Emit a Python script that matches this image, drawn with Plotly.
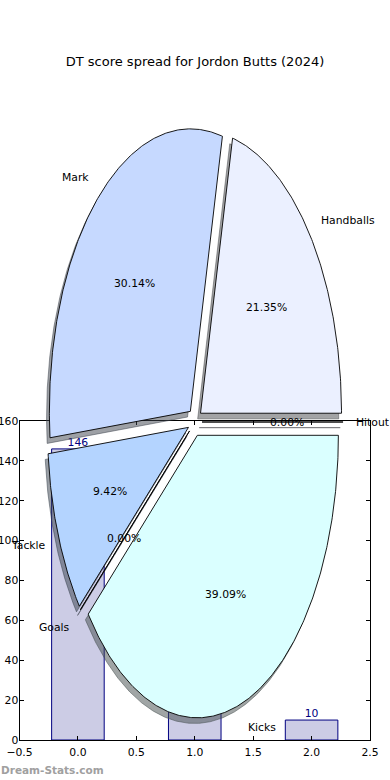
import numpy as np
import plotly.graph_objects as go

# ---------------- data ----------------
title_text = "DT score spread for Jordon Butts (2024)"
slice_labels = ["Handballs", "Mark", "Tackle", "Goals", "Kicks", "Hitout"]
slice_pcts = [21.35, 30.14, 9.42, 0.00, 39.09, 0.00]
slice_colors = ["#EBF0FF", "#C6D9FF", "#B4D4FF", "#C8DCFF", "#DAFFFF", "#E6E6FF"]

bar_x = [0, 1, 2]
bar_vals = [146, 88, 10]
x_tick_vals = [-0.5, 0.0, 0.5, 1.0, 1.5, 2.0, 2.5]
x_tick_text = ["\u22120.5", "0.0", "0.5", "1.0", "1.5", "2.0", "2.5"]
y_tick_vals = [0, 20, 40, 60, 80, 100, 120, 140, 160]
watermark = "Dream-Stats.com"

# ---------------- layout constants ----------------
W, H = 390, 780
AX_L, AX_R, AX_T, AX_B = 19.5, 370.0, 421.0, 740.0   # bar axes box (px)
PIE_CX, PIE_CY, PIE_RX, PIE_RY = 195.0, 422.0, 141.0, 282.5  # pie ellipse (px)
EXPLODE = 0.05
SHADOW_OFF = 0.02
LABEL_DIST = 1.1
PCT_DIST = 0.6
FONT = "DejaVu Sans"
FS = 10.8


def hex_rgb(h):
    h = h.lstrip("#")
    return tuple(int(h[i:i + 2], 16) for i in (0, 2, 4))


fig = go.Figure()

# ---------------- bars (x / y) ----------------
fig.add_trace(go.Bar(
    x=bar_x, y=bar_vals, width=0.45,
    marker=dict(color="#CCCCE5", line=dict(color="#000080", width=1)),
    xaxis="x", yaxis="y", showlegend=False, hoverinfo="skip",
))
fig.add_trace(go.Scatter(
    x=bar_x, y=bar_vals, mode="text", text=[str(v) for v in bar_vals],
    textposition="top center",
    textfont=dict(family=FONT, size=FS, color="#000080"),
    xaxis="x", yaxis="y", showlegend=False, hoverinfo="skip",
))

# ---------------- pie (x2 / y2, unit-circle coordinates) ----------------
total = float(sum(slice_pcts))
theta_start = []
theta_end = []
acc = 0.0
for p in slice_pcts:
    t1 = 360.0 * acc / total
    acc += p
    t2 = 360.0 * acc / total
    theta_start.append(t1)
    theta_end.append(t2)

wedges = []
for lab, p, col, t1, t2 in zip(slice_labels, slice_pcts, slice_colors, theta_start, theta_end):
    tm = np.deg2rad((t1 + t2) / 2.0)
    ox, oy = EXPLODE * np.cos(tm), EXPLODE * np.sin(tm)
    n = max(2, int(abs(t2 - t1) * 2) + 2)
    th = np.deg2rad(np.linspace(t1, t2, n))
    xs = np.concatenate([[ox], ox + np.cos(th), [ox]])
    ys = np.concatenate([[oy], oy + np.sin(th), [oy]])
    wedges.append((lab, p, col, tm, ox, oy, xs, ys))

# shadows first (below all wedges)
for lab, p, col, tm, ox, oy, xs, ys in wedges:
    r, g, b = hex_rgb(col)
    sc = f"rgba({int(r * 0.3)},{int(g * 0.3)},{int(b * 0.3)},0.5)"
    fig.add_trace(go.Scatter(
        x=xs - SHADOW_OFF, y=ys - SHADOW_OFF, mode="lines", fill="toself",
        fillcolor=sc, line=dict(color=sc, width=1),
        xaxis="x2", yaxis="y2", showlegend=False, hoverinfo="skip",
    ))

for lab, p, col, tm, ox, oy, xs, ys in wedges:
    fig.add_trace(go.Scatter(
        x=xs, y=ys, mode="lines", fill="toself",
        fillcolor=col, line=dict(color="black", width=0.9),
        xaxis="x2", yaxis="y2", showlegend=False, hoverinfo="skip",
    ))

annotations = []
for lab, p, col, tm, ox, oy, xs, ys in wedges:
    lx = ox + LABEL_DIST * np.cos(tm)
    ly = oy + LABEL_DIST * np.sin(tm)
    left = lx > 0
    annotations.append(dict(
        x=lx, y=ly, xref="x2", yref="y2", text=lab, showarrow=False,
        xanchor="left" if left else "right", yanchor="middle",
        xshift=-2 if left else 2, borderpad=0,
        font=dict(family=FONT, size=FS, color="black"),
    ))
    px_ = ox + PCT_DIST * np.cos(tm)
    py_ = oy + PCT_DIST * np.sin(tm)
    annotations.append(dict(
        x=px_, y=py_, xref="x2", yref="y2", text=f"{p:.2f}%", showarrow=False,
        xanchor="center", yanchor="middle", borderpad=0,
        font=dict(family=FONT, size=FS, color="black"),
    ))

annotations.append(dict(
    x=0.0, y=1 - 770 / H, xref="paper", yref="paper", text="<b>" + watermark + "</b>",
    showarrow=False, xanchor="left", yanchor="middle", borderpad=0,
    font=dict(family=FONT, size=10.5, color="#A0A0A0"),
))

axis_common = dict(
    showline=True, linecolor="black", linewidth=1, mirror="ticks",
    ticks="inside", ticklen=4, tickwidth=1, tickcolor="black",
    showgrid=False, zeroline=False, fixedrange=True, automargin=False,
    tickfont=dict(family=FONT, size=FS, color="black"),
)

fig.update_layout(
    width=W, height=H,
    margin=dict(l=0, r=0, t=0, b=0, pad=0, autoexpand=False),
    paper_bgcolor="white", plot_bgcolor="rgba(0,0,0,0)",
    showlegend=False,
    title=dict(text=title_text, x=0.5, xanchor="center", y=1 - 61 / H, yanchor="middle",
               font=dict(family=FONT, size=13, color="black")),
    xaxis=dict(domain=[AX_L / W, AX_R / W], range=[-0.5, 2.5], anchor="y",
               tickmode="array", tickvals=x_tick_vals, ticktext=x_tick_text,
               ticklabelstandoff=2,
               **axis_common),
    yaxis=dict(domain=[1 - AX_B / H, 1 - AX_T / H], range=[0, 160], anchor="x",
               tickmode="array", tickvals=y_tick_vals, ticklabelstandoff=-2,
               **axis_common),
    xaxis2=dict(domain=[0, 1], anchor="y2", visible=False, fixedrange=True, automargin=False,
                range=[-PIE_CX / PIE_RX, (W - PIE_CX) / PIE_RX]),
    yaxis2=dict(domain=[0, 1], anchor="x2", visible=False, fixedrange=True, automargin=False,
                range=[-(H - PIE_CY) / PIE_RY, PIE_CY / PIE_RY]),
    annotations=annotations,
)

fig.write_html("out.html", config={"displayModeBar": False},
               post_script="document.body.style.margin='0px';")
